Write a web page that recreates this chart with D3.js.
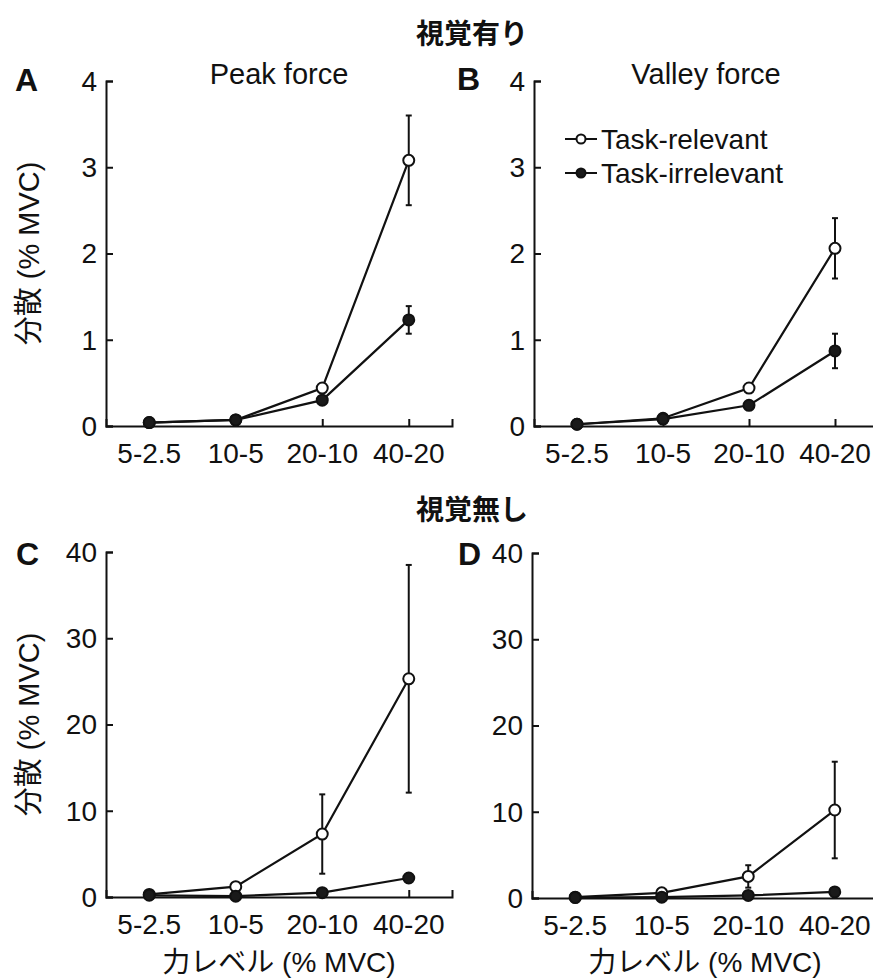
<!DOCTYPE html>
<html>
<head>
<meta charset="utf-8">
<script src="https://cdn.jsdelivr.net/npm/d3@7"></script>
<style>
  body { margin: 0; background: #fff; }
  text { font-family: "Liberation Sans", Arial, "Noto Sans CJK JP", sans-serif; fill: #111; }
</style>
</head>
<body>
<svg id="chart" width="873" height="979"></svg>
<script>
'use strict'

// force level pairs (% MVC)
const levels = ['5-2.5', '10-5', '20-10', '40-20']

// with vision
const peakVisRel = [0.04, 0.07, 0.44, 3.08]
const peakVisRelErr = [0.01, 0.01, 0.03, 0.52]
const peakVisIrr = [0.04, 0.07, 0.30, 1.23]
const peakVisIrrErr = [0.01, 0.01, 0.03, 0.16]

const valleyVisRel = [0.02, 0.09, 0.44, 2.06]
const valleyVisRelErr = [0.01, 0.02, 0.04, 0.35]
const valleyVisIrr = [0.02, 0.08, 0.24, 0.87]
const valleyVisIrrErr = [0.01, 0.02, 0.03, 0.20]

// without vision
const peakNoVisRel = [0.3, 1.2, 7.3, 25.3]
const peakNoVisRelErr = [0.1, 0.3, 4.6, 13.2]
const peakNoVisIrr = [0.2, 0.1, 0.5, 2.2]
const peakNoVisIrrErr = [0.05, 0.05, 0.2, 0.4]

const valleyNoVisRel = [0.1, 0.6, 2.5, 10.2]
const valleyNoVisRelErr = [0.05, 0.2, 1.3, 5.6]
const valleyNoVisIrr = [0.05, 0.1, 0.3, 0.7]
const valleyNoVisIrrErr = [0.02, 0.05, 0.1, 0.2]

const ticksVis = [0, 1, 2, 3, 4]
const ticksNoVis = [0, 10, 20, 30, 40]

const panels = [
  { letter: 'A', title: 'Peak force', rel: peakVisRel, relErr: peakVisRelErr, irr: peakVisIrr, irrErr: peakVisIrrErr,
    ticks: ticksVis, left: 106, right: 452, top: 81, bottom: 426, ylab: true, xlab: false, lx: 15, ly: 91 },
  { letter: 'B', title: 'Valley force', rel: valleyVisRel, relErr: valleyVisRelErr, irr: valleyVisIrr, irrErr: valleyVisIrrErr,
    ticks: ticksVis, left: 534, right: 878, top: 81, bottom: 426, ylab: false, xlab: false, lx: 457, ly: 90, legend: true },
  { letter: 'C', rel: peakNoVisRel, relErr: peakNoVisRelErr, irr: peakNoVisIrr, irrErr: peakNoVisIrrErr,
    ticks: ticksNoVis, left: 106, right: 452, top: 552, bottom: 897, ylab: true, xlab: true, lx: 16, ly: 565 },
  { letter: 'D', rel: valleyNoVisRel, relErr: valleyNoVisRelErr, irr: valleyNoVisIrr, irrErr: valleyNoVisIrrErr,
    ticks: ticksNoVis, left: 532, right: 878, top: 553, bottom: 898, ylab: false, xlab: true, lx: 458, ly: 565 }
]

const svg = d3.select('#chart')

// section headings
svg.append('text').attr('x', 472).attr('y', 44).attr('text-anchor', 'middle')
  .style('font-family', '"Noto Sans CJK JP", sans-serif')
  .style('font-size', '28px').style('font-weight', 'bold').text('視覚有り')
svg.append('text').attr('x', 472).attr('y', 520).attr('text-anchor', 'middle')
  .style('font-family', '"Noto Sans CJK JP", sans-serif')
  .style('font-size', '28px').style('font-weight', 'bold').text('視覚無し')

const R = 5.5

panels.forEach(p => {
  const yMax = p.ticks[p.ticks.length - 1]
  const x = d3.scaleLinear().domain([0.5, 4.5]).range([p.left, p.right])
  const y = d3.scaleLinear().domain([0, yMax]).range([p.bottom, p.top])
  const g = svg.append('g')

  // axes, MATLAB style with inward ticks
  const yAxis = g.append('g').attr('transform', `translate(${p.left},0)`)
    .call(d3.axisRight(y).tickValues(p.ticks).tickSize(7).tickFormat(''))
  const xAxis = g.append('g').attr('transform', `translate(0,${p.bottom})`)
    .call(d3.axisTop(x).tickValues([1, 2, 3, 4]).tickSize(7).tickFormat(''))
  ;[yAxis, xAxis].forEach(a => {
    a.select('.domain').attr('stroke', '#111').attr('stroke-width', 2)
    a.selectAll('.tick line').attr('stroke', '#111').attr('stroke-width', 2)
  })

  g.selectAll('.ytl').data(p.ticks).enter().append('text')
    .attr('x', p.left - 9).attr('y', d => y(d)).attr('dy', '0.35em')
    .attr('text-anchor', 'end').style('font-size', '28px').text(d => d)

  g.selectAll('.xtl').data(levels).enter().append('text')
    .attr('x', (d, i) => x(i + 1)).attr('y', p.bottom + 37)
    .attr('text-anchor', 'middle').style('font-size', '28px').text(d => d)

  if (p.title) {
    g.append('text').attr('x', (p.left + p.right) / 2).attr('y', 84)
      .attr('text-anchor', 'middle').style('font-size', '29px').text(p.title)
  }
  g.append('text').attr('x', p.lx).attr('y', p.ly)
    .style('font-size', '32px').style('font-weight', 'bold').text(p.letter)

  if (p.ylab) {
    g.append('text').attr('transform', `translate(39,${(p.top + p.bottom) / 2}) rotate(-90)`)
      .attr('text-anchor', 'middle').style('font-size', '29px').text('分散 (% MVC)')
  }
  if (p.xlab) {
    g.append('text').attr('x', (p.left + p.right) / 2).attr('y', 972)
      .attr('text-anchor', 'middle').style('font-size', '28px').text('力レベル (% MVC)')
  }

  const line = d3.line().x((d, i) => x(i + 1)).y(d => y(d))
  const series = [
    { v: p.rel, e: p.relErr, fill: '#fff' },
    { v: p.irr, e: p.irrErr, fill: '#1a1a1a' }
  ]

  series.forEach(s => {
    g.append('path').datum(s.v).attr('d', line)
      .attr('fill', 'none').attr('stroke', '#111').attr('stroke-width', 2.2)
  })

  series.forEach(s => {
    const eb = g.append('g').selectAll('g').data(s.v).enter().append('g')
    eb.append('line')
      .attr('x1', (d, i) => x(i + 1)).attr('x2', (d, i) => x(i + 1))
      .attr('y1', (d, i) => y(d - s.e[i])).attr('y2', (d, i) => y(d + s.e[i]))
      .attr('stroke', '#111').attr('stroke-width', 2)
    ;[-1, 1].forEach(sign => {
      eb.append('line')
        .attr('x1', (d, i) => x(i + 1) - 3).attr('x2', (d, i) => x(i + 1) + 3)
        .attr('y1', (d, i) => y(d + sign * s.e[i])).attr('y2', (d, i) => y(d + sign * s.e[i]))
        .attr('stroke', '#111').attr('stroke-width', 2)
    })
  })

  series.forEach(s => {
    g.append('g').selectAll('circle').data(s.v).enter().append('circle')
      .attr('cx', (d, i) => x(i + 1)).attr('cy', d => y(d)).attr('r', R)
      .attr('fill', s.fill).attr('stroke', '#111').attr('stroke-width', 2)
  })

  if (p.legend) {
    const items = [{ label: 'Task-relevant', fill: '#fff' }, { label: 'Task-irrelevant', fill: '#1a1a1a' }]
    const lg = g.append('g')
    items.forEach((it, k) => {
      const ly = 139 + k * 34
      lg.append('line').attr('x1', 565).attr('x2', 597).attr('y1', ly).attr('y2', ly)
        .attr('stroke', '#111').attr('stroke-width', 2)
      lg.append('circle').attr('cx', 581).attr('cy', ly).attr('r', 4.5)
        .attr('fill', it.fill).attr('stroke', '#111').attr('stroke-width', 2)
      lg.append('text').attr('x', 601).attr('y', ly).attr('dy', '0.35em')
        .style('font-size', '28px').text(it.label)
    })
  }
})
</script>
</body>
</html>
